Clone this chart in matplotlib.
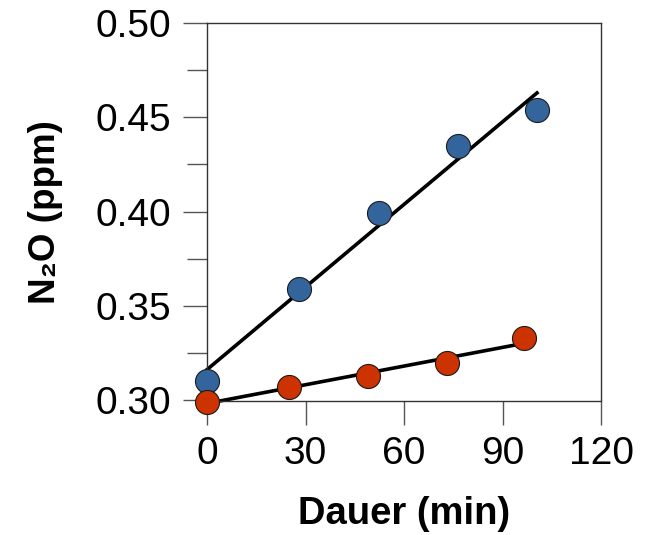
import numpy as np
import matplotlib
matplotlib.use("Agg")
import matplotlib.pyplot as plt
from matplotlib.ticker import MultipleLocator

plt.rcParams['font.family'] = ['Liberation Sans', 'DejaVu Sans']

# Data
blue_x = [0, 28, 52.4, 76.5, 100.5]
blue_y = [0.3103, 0.3590, 0.3992, 0.4347, 0.4537]
red_x = [0, 24.9, 49, 73, 96.6]
red_y = [0.2994, 0.3073, 0.3130, 0.3199, 0.3329]
x_ticks = [0, 30, 60, 90, 120]
y_ticks = [0.30, 0.35, 0.40, 0.45, 0.50]

fig = plt.figure(figsize=(6.59, 5.35), dpi=100)
ax = fig.add_axes([207/659, 1 - 400.5/535, (601-207)/659, (400.5-22.7)/535])

blue_c = '#33659c'
red_c = '#cc3300'

for xs, ys, c in [(blue_x, blue_y, blue_c), (red_x, red_y, red_c)]:
    xs = np.asarray(xs); ys = np.asarray(ys)
    k, b = np.polyfit(xs, ys, 1)
    xl = np.array([xs.min(), xs.max()])
    ax.plot(xl, k*xl + b, color='black', lw=2.6, zorder=2, clip_on=False)
    ax.plot(xs, ys, 'o', ms=17.3, mfc=c, mec='#1a1a1a', mew=0.8, zorder=3, clip_on=False)

ax.set_xlim(0, 120)
ax.set_ylim(0.30, 0.50)
ax.set_xticks(x_ticks)
ax.set_yticks(y_ticks)
ax.set_xticklabels([str(v) for v in x_ticks])
ax.set_yticklabels([f"{v:.2f}" for v in y_ticks])
ax.yaxis.set_minor_locator(MultipleLocator(0.025))

for s in ax.spines.values():
    s.set_linewidth(1.0)
    s.set_color('#333333')

ax.tick_params(axis='both', which='major', direction='out', length=17, width=1.0,
               color='#555555', labelsize=28, pad=8.5)
ax.tick_params(axis='y', which='minor', direction='out', length=14.5, width=1.0, color='#555555')
ax.tick_params(axis='y', which='major', pad=9)

ax.set_xlabel('Dauer (min)', fontsize=27.5, fontweight='bold', labelpad=17)
ax.set_ylabel('N\u2082O (ppm)', fontsize=26.5, fontweight='bold', labelpad=23)

fig.savefig('out.png', dpi=100)
